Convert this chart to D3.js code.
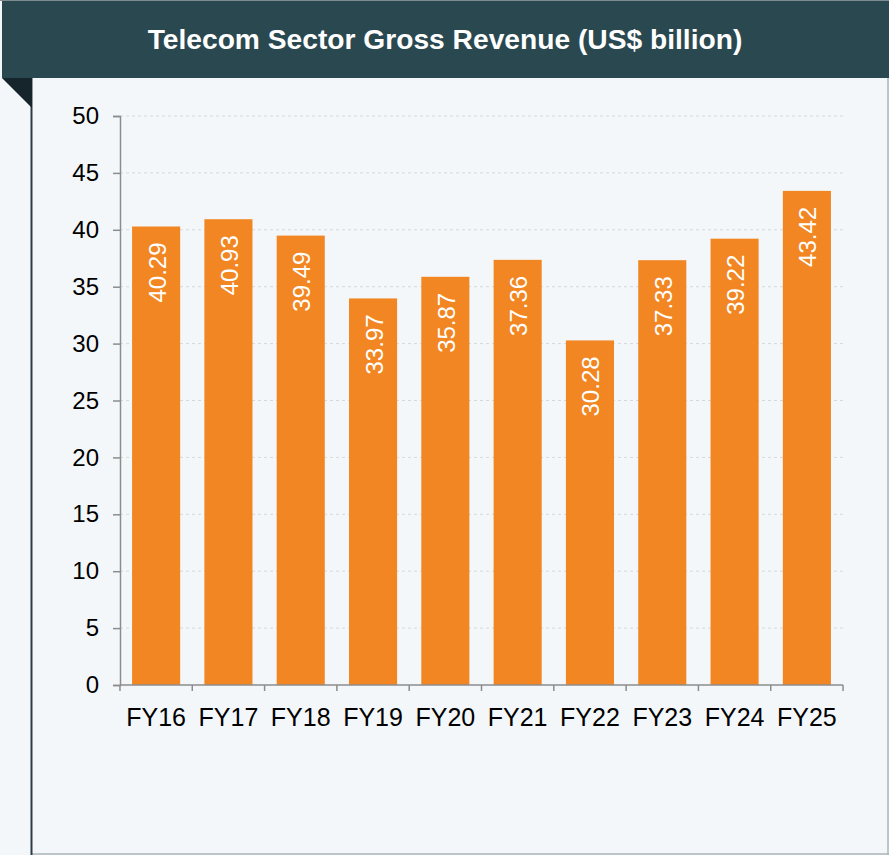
<!DOCTYPE html>
<html>
<head>
<meta charset="utf-8">
<script src="https://cdn.jsdelivr.net/npm/d3@7"></script>
<style>
  html, body { margin: 0; padding: 0; background: #f4f7f9; }
  svg { display: block; }
</style>
</head>
<body>
<svg id="chart" width="889" height="855"></svg>
<script>
// Telecom sector gross revenue, US$ billion
const categories = ["FY16", "FY17", "FY18", "FY19", "FY20", "FY21", "FY22", "FY23", "FY24", "FY25"];
const revenue = [40.29, 40.93, 39.49, 33.97, 35.87, 37.36, 30.28, 37.33, 39.22, 43.42];
const yTicks = [0, 5, 10, 15, 20, 25, 30, 35, 40, 45, 50];
const title = "Telecom Sector Gross Revenue (US$ billion)";

const svg = d3.select("#chart");
const W = 889, H = 855;
const FONT = "Liberation Sans, Arial, sans-serif";

// page background
svg.append("rect").attr("width", W).attr("height", H).attr("fill", "#f4f7f9");

// panel borders
svg.append("line").attr("x1", 888).attr("x2", 888).attr("y1", 78).attr("y2", H)
  .attr("stroke", "#a9b4ba").attr("stroke-width", 1.5);
svg.append("line").attr("x1", 31).attr("x2", W).attr("y1", 854).attr("y2", 854)
  .attr("stroke", "#a9b4ba").attr("stroke-width", 1.5);
svg.append("line").attr("x1", 31.5).attr("x2", 31.5).attr("y1", 78).attr("y2", H)
  .attr("stroke", "#2b3c44").attr("stroke-width", 2);

// header band
svg.append("line").attr("x1", 0).attr("x2", W).attr("y1", 0.5).attr("y2", 0.5)
  .attr("stroke", "#7f8d93").attr("stroke-width", 1);
svg.append("rect").attr("x", 2).attr("y", 1).attr("width", W - 2).attr("height", 77)
  .attr("fill", "#2a4850");
// folded corner under the header
svg.append("path").attr("d", "M2,78 L32,78 L32,108 Z").attr("fill", "#15252b");

svg.append("text")
  .attr("x", 445).attr("y", 49)
  .attr("text-anchor", "middle")
  .attr("font-family", FONT)
  .attr("font-weight", "bold")
  .attr("font-size", 28.2)
  .attr("fill", "#ffffff")
  .text(title);

// plot area
const plotLeft = 120, plotRight = 843, plotTop = 116, plotBottom = 685;

const x = d3.scaleBand().domain(categories).range([plotLeft, plotRight]).paddingInner(0.335).paddingOuter(0.167);
const y = d3.scaleLinear().domain([0, 50]).range([plotBottom, plotTop]);

// dotted gridlines
svg.append("g")
  .selectAll("line")
  .data(yTicks.filter(d => d > 0))
  .join("line")
  .attr("x1", plotLeft).attr("x2", plotRight)
  .attr("y1", d => y(d)).attr("y2", d => y(d))
  .attr("stroke", "#d6d9db").attr("stroke-width", 1)
  .attr("stroke-dasharray", "3,3");

// bars
svg.append("g")
  .selectAll("rect")
  .data(revenue)
  .join("rect")
  .attr("x", (d, i) => x(categories[i]))
  .attr("y", d => y(d))
  .attr("width", x.bandwidth())
  .attr("height", d => plotBottom - y(d))
  .attr("fill", "#f28622");

// value labels inside bars, rotated
svg.append("g")
  .selectAll("text")
  .data(revenue)
  .join("text")
  .attr("transform", (d, i) => `translate(${x(categories[i]) + x.bandwidth() / 2 + 9.5},${y(d) + 16}) rotate(-90)`)
  .attr("text-anchor", "end")
  .attr("font-family", FONT)
  .attr("font-size", 24)
  .attr("fill", "#ffffff")
  .text(d => d.toFixed(2));

// y axis
const yAxis = d3.axisLeft(y).tickValues(yTicks).tickSize(7).tickPadding(14).tickFormat(d3.format("d"));
const gy = svg.append("g").attr("transform", `translate(${plotLeft},0)`).call(yAxis);
gy.select(".domain").attr("stroke", "#8c8c8c").attr("stroke-width", 1.5);
gy.selectAll(".tick line").attr("stroke", "#8c8c8c").attr("stroke-width", 1.5);
gy.selectAll(".tick text")
  .attr("font-family", FONT)
  .attr("font-size", 24).attr("fill", "#000");

// x axis with ticks at category boundaries
const gx = svg.append("g");
gx.append("line").attr("x1", plotLeft).attr("x2", plotRight).attr("y1", plotBottom).attr("y2", plotBottom)
  .attr("stroke", "#8c8c8c").attr("stroke-width", 1.5);
const boundaries = d3.range(categories.length + 1)
  .map(i => x(categories[0]) - x.step() * x.paddingInner() / 2 + x.step() * i);
gx.selectAll("line.b")
  .data(boundaries)
  .join("line").attr("class", "b")
  .attr("x1", d => d).attr("x2", d => d)
  .attr("y1", plotBottom).attr("y2", plotBottom + 6)
  .attr("stroke", "#8c8c8c").attr("stroke-width", 1.5);

svg.append("g")
  .selectAll("text")
  .data(categories)
  .join("text")
  .attr("x", d => x(d) + x.bandwidth() / 2)
  .attr("y", 726)
  .attr("text-anchor", "middle")
  .attr("font-family", FONT)
  .attr("font-size", 25)
  .attr("fill", "#000")
  .text(d => d);
</script>
</body>
</html>
